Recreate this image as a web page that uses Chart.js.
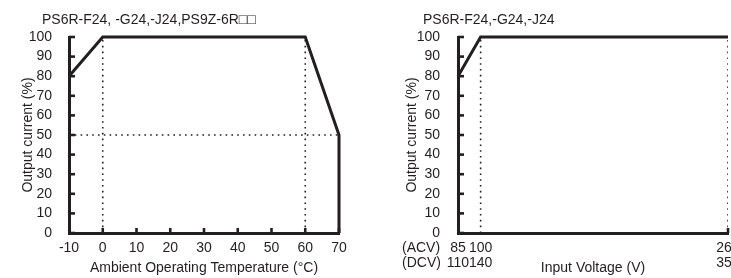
<!DOCTYPE html>
<html>
<head>
<meta charset="utf-8">
<script src="https://cdn.jsdelivr.net/npm/chart.js@4.4.1/dist/chart.umd.min.js"></script>
<style>
  html, body { margin: 0; padding: 0; background: #fff; }
  body { width: 731px; height: 278px; overflow: hidden; position: relative; }
  canvas { position: absolute; top: 0; }
  #tempChart { left: 0; }
  #voltChart { left: 370px; }
</style>
</head>
<body>
<canvas id="tempChart" width="360" height="278"></canvas>
<canvas id="voltChart" width="400" height="278"></canvas>
<script>
// derating vs ambient temperature
const tempX = [-10, 0, 60, 70, 70];
const tempLoad = [80, 100, 100, 50, 0];
const tempGuideX = [0, 60];
const tempGuideY = [50];

// derating vs input voltage (AC values on the axis, DC values printed below)
const acvX = [85, 100, 264];
const dcvLabels = [110, 140, 350];
const voltLoad = [80, 100, 100];
const voltGuideX = [100, 264];

const ink = '#231f20';
const FONT = '"Liberation Sans", Arial, "DejaVu Sans", sans-serif';

function guideSets(xs, ys, xMin, xMax) {
    const sets = [];
    xs.forEach(g => sets.push([{ x: g, y: 0 }, { x: g, y: 100 }]));
    ys.forEach(g => sets.push([{ x: xMin, y: g }, { x: xMax, y: g }]));
    return sets.map(d => ({
        data: d,
        borderColor: ink,
        borderWidth: 1.6,
        borderDash: [1.6, 4.2],
        pointRadius: 0,
        tension: 0
    }));
}

// inward tick marks and the loose texts (chart title, ACV/DCV row names)
const axisDeco = {
    id: 'axisDeco',
    afterDatasetsDraw(chart, args, opts) {
        const { ctx, chartArea, scales: { x, y } } = chart;
        ctx.save();
        ctx.strokeStyle = ink;
        ctx.lineWidth = 2.6;
        y.ticks.forEach(t => {
            const py = y.getPixelForValue(t.value);
            ctx.beginPath();
            ctx.moveTo(chartArea.left, py);
            ctx.lineTo(chartArea.left + 6, py);
            ctx.stroke();
        });
        (opts.xMarks || []).forEach(v => {
            const px = x.getPixelForValue(v);
            ctx.beginPath();
            ctx.moveTo(px, chartArea.bottom);
            ctx.lineTo(px, chartArea.bottom - 5);
            ctx.stroke();
        });
        ctx.fillStyle = ink;
        ctx.font = '14px ' + FONT;
        ctx.textBaseline = 'middle';
        ctx.textAlign = 'left';
        ctx.fillText(opts.title, chartArea.left + opts.titleDx, 20);
        (opts.rowNames || []).forEach((name, i) => {
            ctx.fillText(name, chartArea.left + opts.rowDx, 248 + i * 15);
        });
        ctx.restore();
    }
};

function makeChart(id, cfg) {
    const ctx = document.getElementById(id).getContext('2d');
    return new Chart(ctx, {
        type: 'line',
        data: {
            datasets: [{
                data: cfg.xs.map((v, i) => ({ x: v, y: cfg.ys[i] })),
                borderColor: ink,
                borderWidth: 3,
                pointRadius: 0,
                tension: 0,
                clip: 4
            }].concat(cfg.guides)
        },
        options: {
            responsive: false,
            animation: false,
            layout: { padding: { top: 37, left: 0, right: cfg.padRight, bottom: 0 } },
            plugins: {
                legend: { display: false },
                tooltip: { enabled: false },
                axisDeco: cfg.deco
            },
            scales: {
                x: {
                    type: 'linear',
                    min: cfg.xMin,
                    max: cfg.xMax,
                    grid: { display: false },
                    border: { display: true, color: ink, width: 3 },
                    ticks: Object.assign({
                        color: ink,
                        font: { family: FONT, size: 14, lineHeight: 1.07 },
                        padding: 0,
                        maxRotation: 0,
                        autoSkip: false
                    }, cfg.xTicks),
                    afterBuildTicks: cfg.xBuild,
                    title: {
                        display: true,
                        text: cfg.xTitle,
                        color: ink,
                        font: { family: FONT, size: 14 },
                        padding: { top: 0, bottom: 1.6 }
                    },
                    afterFit(scale) { scale.height = 45; }
                },
                y: {
                    min: 0,
                    max: 100,
                    grid: { display: false },
                    border: { display: true, color: ink, width: 3 },
                    ticks: {
                        stepSize: 10,
                        autoSkip: false,
                        color: ink,
                        font: { family: FONT, size: 14 },
                        padding: cfg.yPad
                    },
                    title: {
                        display: true,
                        text: 'Output current (%)',
                        color: ink,
                        font: { family: FONT, size: 14 },
                        padding: { top: cfg.yTitlePad, bottom: 0 }
                    },
                    afterFit(scale) { scale.width = cfg.yWidth; }
                }
            }
        },
        plugins: [axisDeco]
    });
}

makeChart('tempChart', {
    xs: tempX,
    ys: tempLoad,
    guides: guideSets(tempGuideX, tempGuideY, -10, 70),
    xMin: -10,
    xMax: 70,
    xTicks: { stepSize: 10 },
    xTitle: 'Ambient Operating Temperature (°C)',
    padRight: 21,
    yWidth: 69,
    yPad: 9,
    yTitlePad: 19.6,
    deco: {
        title: 'PS6R-F24, -G24,-J24,PS9Z-6R\u25A1\u25A1',
        titleDx: -27,
        xMarks: [0, 10, 20, 30, 40, 50, 60, 70]
    }
});

makeChart('voltChart', {
    xs: acvX,
    ys: voltLoad,
    guides: guideSets(voltGuideX, [], 85, 264),
    xMin: 85,
    xMax: 264,
    xTicks: {
        callback: (value, index) => [String(acvX[index]), String(dcvLabels[index])]
    },
    xBuild: scale => { scale.ticks = acvX.map(v => ({ value: v })); },
    xTitle: 'Input Voltage (V)',
    padRight: 42,
    yWidth: 88,
    yPad: 10,
    yTitlePad: 33.6,
    deco: {
        title: 'PS6R-F24,-G24,-J24',
        titleDx: -35,
        xMarks: [264],
        rowNames: ['(ACV)', '(DCV)'],
        rowDx: -56
    }
});
</script>
</body>
</html>
